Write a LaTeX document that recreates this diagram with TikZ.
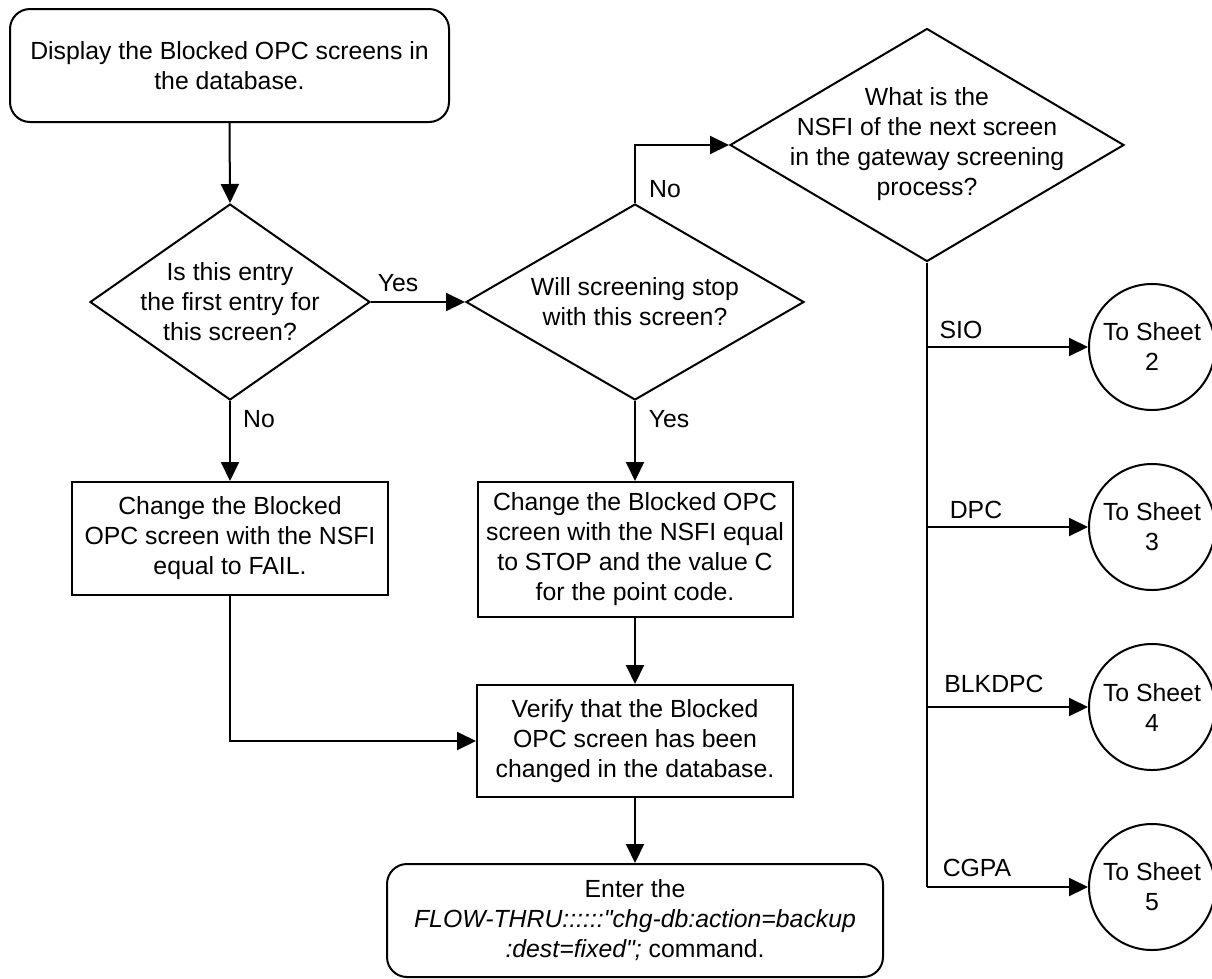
\documentclass[tikz,border=0pt]{standalone}
\usepackage{fontspec}
\setmainfont{Liberation Sans}
\usetikzlibrary{shapes.geometric,arrows.meta}
\begin{document}
\begin{tikzpicture}[x=1pt,y=-1pt,
  every node/.style={font=\fontsize{24.8}{30}\selectfont, inner sep=0pt},
  line/.style={line width=2pt},
  arr/.style={line width=2pt,-{Triangle[length=19pt,width=18pt]}},
  termbox/.style={draw,line width=2pt,rounded corners=20pt,align=center},
  procbox/.style={draw,line width=2pt,align=center},
  decis/.style={draw,line width=2pt,diamond},
  sheet/.style={draw,line width=2pt,circle,minimum size=126pt,align=center},
  lbl/.style={align=center}]
\useasboundingbox (0,0) rectangle (1212,978);

% nodes
\node[termbox,minimum width=439pt,minimum height=113pt] (start) at (229.5,65.5)
  {Display the Blocked OPC screens in\\the database.};
\node[decis,minimum width=280pt,minimum height=196pt] (d1) at (230,302) {};
\node[lbl] (d1t) at (230,302) {Is this entry\\the first entry for\\this screen?};
\node[decis,minimum width=338pt,minimum height=196pt] (d2) at (635,302) {};
\node[lbl] (d2t) at (635,302) {Will screening stop\\with this screen?};
\node[decis,minimum width=394pt,minimum height=233pt] (d3) at (927,145) {};
\node[lbl] (d3t) at (927,144) {What is the\\NSFI of the next screen\\in the gateway screening\\process?};
\node[procbox,minimum width=316pt,minimum height=113pt] (b1) at (230,538.5)
  {Change the Blocked\\OPC screen with the NSFI\\equal to FAIL.};
\node[procbox,minimum width=315pt,minimum height=135pt] (b2) at (635,549.5)
  {Change the Blocked OPC\\screen with the NSFI equal\\to STOP and the value C\\for the point code.};
\node[procbox,minimum width=316pt,minimum height=112pt] (ver) at (635,741)
  {Verify that the Blocked\\OPC screen has been\\changed in the database.};
\node[termbox,minimum width=496pt,minimum height=113pt] (term) at (635,920.5)
  {Enter the\\\textit{FLOW-THRU::::::\textquotedbl chg-db:action=backup}\\\textit{:dest=fixed\textquotedbl;} command.};
\node[sheet] (s2) at (1152,347) {To Sheet\\2};
\node[sheet] (s3) at (1152,527) {To Sheet\\3};
\node[sheet] (s4) at (1152,707) {To Sheet\\4};
\node[sheet] (s5) at (1152,887) {To Sheet\\5};

% connector labels
\node (yes1) at (398,283) {Yes};
\node (no1) at (259,419) {No};
\node (no2) at (665,189) {No};
\node (yes2) at (669,419) {Yes};
\node (lsio) at (961,330) {SIO};
\node (ldpc) at (976,510) {DPC};
\node (lblk) at (994,684) {BLKDPC};
\node (lcgpa) at (977,868) {CGPA};

% connectors
\draw[arr] (start.south) -- (d1.north);
\draw[arr] (d1.east) -- (d2.west);
\draw[arr] (d1.south) -- (b1.north);
\draw[arr] (d2.north) |- (d3.west);
\draw[arr] (d2.south) -- (b2.north);
\draw[arr] (b1.south) |- (ver.west);
\draw[arr] (b2.south) -- (ver.north);
\draw[arr] (ver.south) -- (term.north);
\coordinate (trunkend) at (d3.south |- s5.west);
\draw[line] (d3.south) -- (trunkend);
\draw[arr] (d3.south |- s2.west) -- (s2.west);
\draw[arr] (d3.south |- s3.west) -- (s3.west);
\draw[arr] (d3.south |- s4.west) -- (s4.west);
\draw[arr] (trunkend) -- (s5.west);
\end{tikzpicture}
\end{document}
